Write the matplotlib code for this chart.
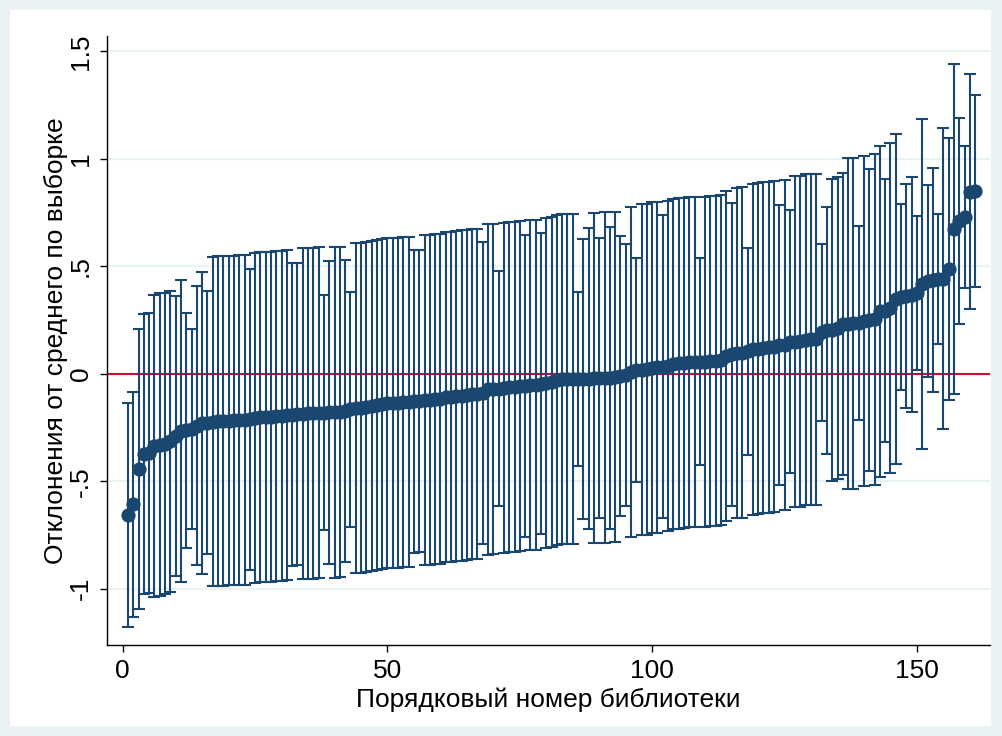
import matplotlib
matplotlib.use('Agg')
import matplotlib.pyplot as plt
from matplotlib.patches import Rectangle
import numpy as np

plt.rcParams['font.family'] = ['Liberation Sans', 'DejaVu Sans']

# Library number (sorted by deviation)
lib_no = np.arange(1, 162)

# Deviation from the sample mean (point estimates)
est = [
    -0.657, -0.608, -0.442, -0.375, -0.370, -0.335, -0.330, -0.325, -0.315, -0.290,
    -0.267, -0.262, -0.255, -0.241, -0.228, -0.227, -0.222, -0.220, -0.219, -0.218,
    -0.217, -0.216, -0.215, -0.211, -0.205, -0.203, -0.201, -0.199, -0.197, -0.195,
    -0.192, -0.190, -0.188, -0.185, -0.184, -0.183, -0.182, -0.181, -0.180, -0.180,
    -0.178, -0.172, -0.166, -0.161, -0.158, -0.153, -0.151, -0.145, -0.140, -0.138,
    -0.135, -0.134, -0.133, -0.132, -0.128, -0.126, -0.123, -0.121, -0.118, -0.116,
    -0.110, -0.107, -0.103, -0.101, -0.097, -0.096, -0.094, -0.089, -0.073, -0.071,
    -0.070, -0.065, -0.063, -0.061, -0.056, -0.056, -0.053, -0.052, -0.047, -0.044,
    -0.038, -0.030, -0.025, -0.024, -0.024, -0.024, -0.024, -0.023, -0.021, -0.020,
    -0.018, -0.019, -0.014, -0.012, -0.005, 0.007, 0.017, 0.020, 0.022, 0.029,
    0.030, 0.033, 0.038, 0.046, 0.048, 0.050, 0.053, 0.054, 0.056, 0.056,
    0.058, 0.060, 0.065, 0.083, 0.090, 0.097, 0.099, 0.104, 0.115, 0.116,
    0.122, 0.124, 0.125, 0.133, 0.135, 0.149, 0.150, 0.151, 0.158, 0.160,
    0.161, 0.193, 0.202, 0.205, 0.214, 0.230, 0.233, 0.235, 0.236, 0.247,
    0.249, 0.253, 0.291, 0.294, 0.307, 0.349, 0.357, 0.363, 0.368, 0.377,
    0.420, 0.432, 0.437, 0.442, 0.443, 0.487, 0.675, 0.710, 0.730, 0.848,
    0.849,
]

# Half-width of the confidence interval
ci_half = [
    0.521, 0.522, 0.652, 0.651, 0.652, 0.703, 0.705, 0.700, 0.700, 0.652,
    0.703, 0.547, 0.465, 0.651, 0.702, 0.611, 0.767, 0.767, 0.767, 0.767,
    0.767, 0.767, 0.767, 0.700, 0.768, 0.768, 0.768, 0.768, 0.768, 0.768,
    0.768, 0.704, 0.704, 0.770, 0.770, 0.770, 0.770, 0.547, 0.703, 0.768,
    0.768, 0.703, 0.546, 0.768, 0.768, 0.768, 0.768, 0.768, 0.768, 0.768,
    0.768, 0.768, 0.768, 0.768, 0.704, 0.704, 0.768, 0.768, 0.768, 0.768,
    0.768, 0.768, 0.768, 0.768, 0.768, 0.768, 0.768, 0.703, 0.768, 0.768,
    0.547, 0.768, 0.768, 0.768, 0.768, 0.704, 0.768, 0.768, 0.700, 0.768,
    0.768, 0.768, 0.768, 0.768, 0.768, 0.405, 0.652, 0.700, 0.768, 0.652,
    0.770, 0.702, 0.769, 0.651, 0.611, 0.768, 0.521, 0.770, 0.770, 0.770,
    0.770, 0.704, 0.768, 0.768, 0.768, 0.768, 0.768, 0.768, 0.482, 0.768,
    0.768, 0.768, 0.768, 0.768, 0.704, 0.769, 0.769, 0.481, 0.770, 0.770,
    0.770, 0.770, 0.770, 0.652, 0.768, 0.611, 0.770, 0.770, 0.770, 0.770,
    0.770, 0.412, 0.576, 0.702, 0.704, 0.703, 0.769, 0.769, 0.450, 0.768,
    0.703, 0.769, 0.769, 0.611, 0.769, 0.767, 0.433, 0.521, 0.548, 0.357,
    0.768, 0.448, 0.521, 0.303, 0.702, 0.611, 0.768, 0.480, 0.330, 0.546,
    0.447,
]

y_ticks = [-1, -0.5, 0, 0.5, 1, 1.5]
y_tick_labels = ['-1', '-.5', '0', '.5', '1', '1.5']
x_ticks = [0, 50, 100, 150]

navy = '#1A476F'
bg = '#EAF2F3'

fig = plt.figure(figsize=(10.02, 7.36), dpi=100)
fig.patch.set_facecolor(bg)
# white inner graph region
fig.patches.append(Rectangle((10 / 1002, 10 / 736), 981 / 1002, 716 / 736,
                             transform=fig.transFigure, facecolor='white',
                             edgecolor='none', zorder=-5))

ax = fig.add_axes([107 / 1002, 91 / 736, 883 / 1002, 609 / 736])
ax.set_zorder(2)
ax.set_facecolor('white')

ax.set_xlim(-2.97, 163.8)
ax.set_ylim(-1.262, 1.572)

for t in y_ticks:
    ax.axhline(t, color=bg, lw=1.6, zorder=1)
ax.axhline(0, color='#C8102E', lw=1.5, zorder=2)

ax.errorbar(lib_no, est, yerr=ci_half, fmt='none', ecolor=navy,
            elinewidth=1.5, capsize=4.2, capthick=1.5, zorder=3)
ax.scatter(lib_no, est, s=105, color=navy, zorder=4, linewidths=0)

ax.spines['top'].set_visible(False)
ax.spines['right'].set_visible(False)
ax.spines['left'].set_linewidth(1.0)
ax.spines['bottom'].set_linewidth(1.0)

ax.set_yticks(y_ticks)
ax.set_yticklabels(y_tick_labels, rotation=90, va='center', fontsize=19)
ax.set_xticks(x_ticks)
ax.set_xticklabels([str(t) for t in x_ticks], fontsize=19)
ax.tick_params(axis='both', direction='out', length=5, width=1.0, pad=5)

ax.set_xlabel('Порядковый номер библиотеки', fontsize=19, labelpad=3)
ax.set_ylabel('Отклонения от среднего по выборке', fontsize=19, labelpad=1)

plt.savefig('out.png', dpi=100, facecolor=fig.get_facecolor())
